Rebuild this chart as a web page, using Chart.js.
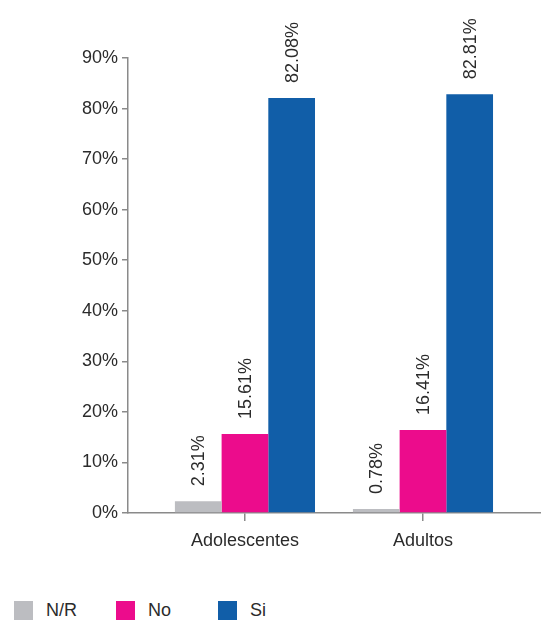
<!DOCTYPE html>
<html>
<head>
<meta charset="utf-8">
<script src="https://cdn.jsdelivr.net/npm/chart.js@4"></script>
<style>
  html, body { margin: 0; padding: 0; background: #fff; }
  #wrap { position: relative; width: 541px; height: 623px; }
  #chart-box { position: absolute; left: 0; top: 0; width: 541px; height: 560px; }
  #legend { position: absolute; left: 14px; top: 600px; display: flex; font-family: "Liberation Sans", Arial, sans-serif; font-size: 18px; color: #2b2b2b; }
  .item { display: flex; align-items: center; width: 102px; }
  .box { width: 19px; height: 19px; margin-right: 13px; }
</style>
</head>
<body>
<div id="wrap">
  <div id="chart-box"><canvas id="myChart"></canvas></div>
  <div id="legend"></div>
</div>
<script>
// Datos del gráfico
const categorias = ["Adolescentes", "Adultos"];
const series = ["N/R", "No", "Si"];
const valoresNR = [2.31, 0.78];
const valoresNo = [15.61, 16.41];
const valoresSi = [82.08, 82.81];
const colores = ["#bcbdc1", "#ec0c8c", "#115ea8"];
const ticksY = [0, 10, 20, 30, 40, 50, 60, 70, 80, 90];

const fuente = '"Liberation Sans", Arial, sans-serif';
const textoColor = "#2b2b2b";
const ejeColor = "#8a8a8a";

// Convierte cada serie en puntos {x, y} sobre el eje lineal
function puntos(valores) {
    return valores.map((v, i) => ({x: i, y: v}));
}

const datasets = [valoresNR, valoresNo, valoresSi].map((valores, i) => ({
    label: series[i],
    data: puntos(valores),
    backgroundColor: colores[i],
    borderWidth: 0,
    barPercentage: 1,
    categoryPercentage: 0.787
}));

// Etiquetas verticales encima de cada barra
const etiquetasBarras = {
    id: "etiquetasBarras",
    afterDatasetsDraw(chart) {
        const ctx = chart.ctx;
        ctx.save();
        ctx.font = "18px " + fuente;
        ctx.fillStyle = textoColor;
        ctx.textAlign = "left";
        ctx.textBaseline = "middle";
        chart.data.datasets.forEach((ds, i) => {
            chart.getDatasetMeta(i).data.forEach((bar, j) => {
                ctx.save();
                ctx.translate(bar.x + 1, bar.y - 15);
                ctx.rotate(-Math.PI / 2);
                ctx.fillText(ds.data[j].y.toFixed(2) + "%", 0, 0);
                ctx.restore();
            });
        });
        ctx.restore();
    }
};

const ctx = document.getElementById("myChart").getContext("2d");
const myChart = new Chart(ctx, {
    type: "bar",
    data: {datasets},
    plugins: [etiquetasBarras],
    options: {
        responsive: true,
        maintainAspectRatio: false,
        animation: false,
        layout: {padding: {top: 58, left: 0, right: 0, bottom: 0}},
        plugins: {
            legend: {display: false},
            tooltip: {enabled: false}
        },
        scales: {
            x: {
                type: "linear",
                offset: false,
                min: -0.657,
                max: 1.663,
                afterBuildTicks: scale => {
                    scale.ticks = categorias.map((c, i) => ({value: i}));
                },
                afterFit: scale => { scale.height = 47; },
                ticks: {
                    callback: v => categorias[v] ?? "",
                    color: textoColor,
                    font: {family: fuente, size: 18},
                    padding: 9,
                    maxRotation: 0
                },
                grid: {offset: false, drawOnChartArea: false, tickLength: 8, color: ejeColor, lineWidth: 1.5},
                border: {color: ejeColor, width: 1.5}
            },
            y: {
                min: 0,
                max: 90,
                afterBuildTicks: scale => {
                    scale.ticks = ticksY.map(v => ({value: v}));
                },
                afterFit: scale => { scale.width = 128; },
                ticks: {
                    callback: v => v + "%",
                    color: textoColor,
                    font: {family: fuente, size: 18},
                    padding: 4
                },
                grid: {drawOnChartArea: false, tickLength: 6, color: ejeColor, lineWidth: 1.5},
                border: {color: ejeColor, width: 1.5}
            }
        }
    }
});

// Leyenda en HTML
const leyenda = document.getElementById("legend");
series.forEach((nombre, i) => {
    const item = document.createElement("div");
    item.className = "item";
    const caja = document.createElement("div");
    caja.className = "box";
    caja.style.background = colores[i];
    const texto = document.createElement("span");
    texto.textContent = nombre;
    item.appendChild(caja);
    item.appendChild(texto);
    leyenda.appendChild(item);
});
</script>
</body>
</html>
